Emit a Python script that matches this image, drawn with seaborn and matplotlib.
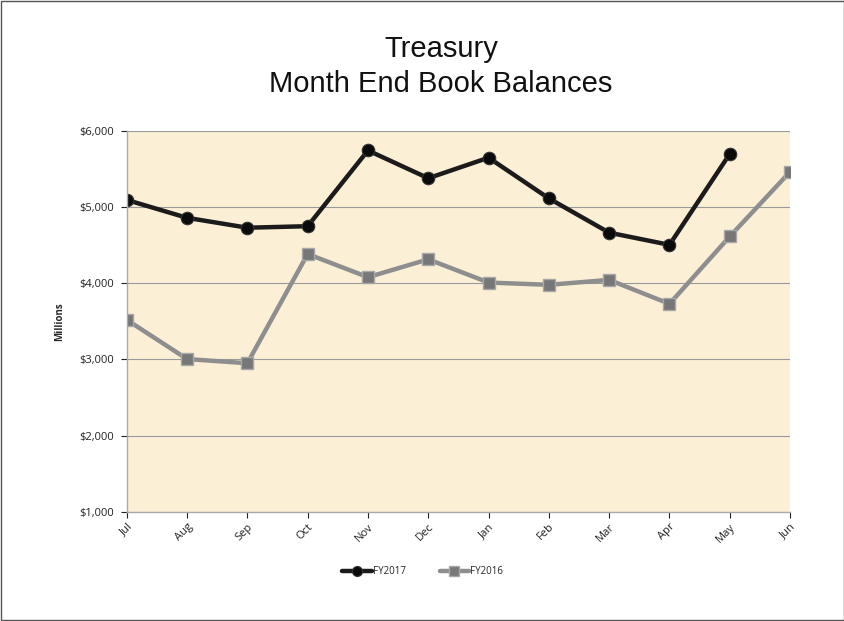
import pandas as pd
import matplotlib
matplotlib.use('Agg')
import matplotlib.pyplot as plt
import matplotlib.patches as patches
from matplotlib.ticker import FuncFormatter, MultipleLocator
import seaborn as sns

# 데이터 (millions)
months = ['Jul', 'Aug', 'Sep', 'Oct', 'Nov', 'Dec', 'Jan', 'Feb', 'Mar', 'Apr', 'May', 'Jun']
fy2017 = [5095, 4860, 4730, 4750, 5745, 5380, 5650, 5115, 4665, 4505, 5700]
fy2016 = [3520, 3005, 2950, 4385, 4080, 4315, 4010, 3980, 4045, 3730, 4615, 5465]
series_names = ['FY2017', 'FY2016']
title_lines = ['Treasury', 'Month End Book Balances']

rows = []
for i, v in enumerate(fy2017):
    rows.append({'pos': i, 'month': months[i], 'value': v, 'series': 'FY2017'})
for i, v in enumerate(fy2016):
    rows.append({'pos': i, 'month': months[i], 'value': v, 'series': 'FY2016'})
df = pd.DataFrame(rows)

sns.set_style('white')
plt.rcParams['font.family'] = ['Open Sans', 'DejaVu Sans']

fig = plt.figure(figsize=(8.45, 6.21), dpi=100)
ax = fig.add_axes([0.150, 0.176, 0.785, 0.613])
ax.set_facecolor('#FBEFD6')

sns.lineplot(data=df, x='pos', y='value', hue='series', style='series',
             hue_order=series_names, style_order=series_names,
             palette={'FY2017': '#1c1a1a', 'FY2016': '#8e8e8e'},
             markers={'FY2017': 'o', 'FY2016': 's'}, dashes=False,
             linewidth=3.2, markersize=9, sort=False, ax=ax)

# 마커 색상 조정
for line in ax.get_lines():
    if line.get_marker() == 's':
        line.set_markerfacecolor('#777777')
        line.set_markeredgecolor('#a8a8a8')
        line.set_markeredgewidth(1.0)
    elif line.get_marker() == 'o':
        line.set_markerfacecolor('#0a0a0a')
        line.set_markeredgecolor('#333333')
        line.set_markeredgewidth(0.8)

ax.set_xlim(0, 11)
ax.set_ylim(1000, 6000)
ax.yaxis.set_major_locator(MultipleLocator(1000))
ax.yaxis.set_major_formatter(FuncFormatter(lambda v, p: f"${v:,.0f}"))
ax.set_xticks(range(len(months)))
ax.set_xticklabels(months, rotation=45, ha='right', rotation_mode='anchor')
ax.tick_params(axis='both', labelsize=8, colors='#222222', length=4, width=0.8)
ax.tick_params(axis='x', direction='out', bottom=True, pad=3)
ax.tick_params(axis='y', direction='out', left=True, pad=5)
for t in ax.get_xticklines() + ax.get_yticklines():
    t.set_color('#999999')

ax.grid(axis='y', color='#9a9a9a', linewidth=0.8)
ax.grid(axis='x', visible=False)
for s in ['top', 'right']:
    ax.spines[s].set_visible(False)
for s in ['left', 'bottom']:
    ax.spines[s].set_color('#aaaaaa')
    ax.spines[s].set_linewidth(1.0)

ax.set_xlabel('')
ax.set_ylabel('Millions', fontsize=7, fontweight='bold', labelpad=10)

# 제목 (두 줄)
fig.text(0.522, 0.908, title_lines[0], ha='center', va='baseline',
         fontsize=21, family=['Liberation Sans'], color='#111111')
fig.text(0.522, 0.852, title_lines[1], ha='center', va='baseline',
         fontsize=21, family=['Liberation Sans'], color='#111111')

leg = ax.legend(loc='center', bbox_to_anchor=(0.5, 0.079),
                bbox_transform=fig.transFigure, ncol=2, frameon=False,
                fontsize=7, handlelength=3, columnspacing=3.5,
                handletextpad=0.1, markerscale=0.8)

# 외곽선
fig.patches.append(patches.Rectangle((0.001, 0.001), 0.998, 0.997,
                                     transform=fig.transFigure, fill=False,
                                     edgecolor='#555555', linewidth=1.0))

plt.savefig('out.png', dpi=100)
plt.close()
